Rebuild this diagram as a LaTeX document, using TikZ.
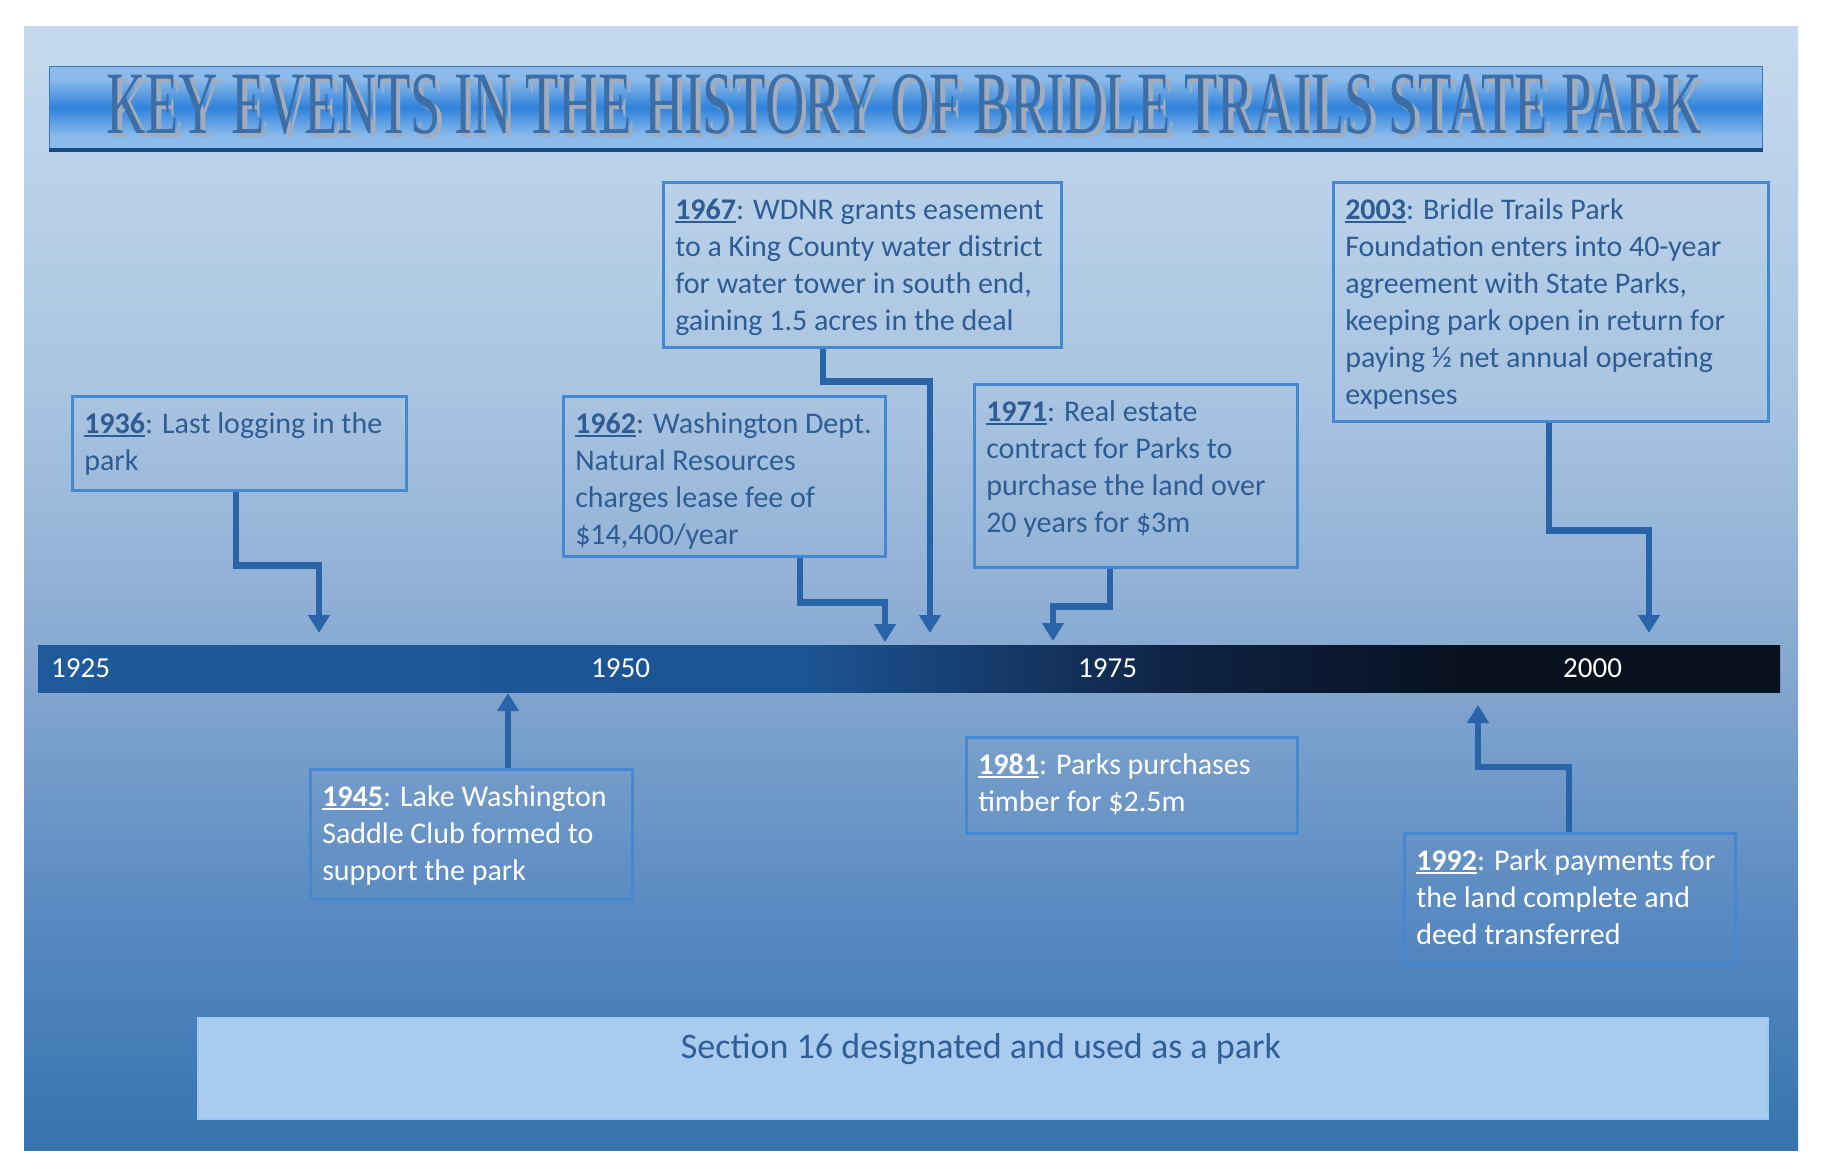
\documentclass[tikz,border=0pt]{standalone}
\usepackage{graphicx}
\usepackage{fontspec}
\setmainfont{Carlito}
\newfontfamily\titlefont{Liberation Serif}
\usetikzlibrary{arrows.meta,calc}
\definecolor{bgtop}{HTML}{C6DAEE}
\definecolor{bgA}{HTML}{A9C4E1}
\definecolor{bgB}{HTML}{86A8D0}
\definecolor{bgC}{HTML}{5B8BC2}
\definecolor{bgbot}{HTML}{3573AF}
\definecolor{barA}{HTML}{1E5A9C}
\definecolor{barB}{HTML}{1C5494}
\definecolor{barC}{HTML}{163A6A}
\definecolor{barD}{HTML}{0E2242}
\definecolor{barE}{HTML}{08111F}
\definecolor{tbLight}{HTML}{8CBBEB}
\definecolor{tbMid}{HTML}{2F82DB}
\definecolor{tbDark}{HTML}{1B4A82}
\definecolor{tbEdge}{HTML}{3F78B8}
\definecolor{titlec}{HTML}{3D6FA6}
\definecolor{titleshadow}{HTML}{A2ACBC}
\definecolor{boxline}{HTML}{4488D2}
\definecolor{boxtxt}{HTML}{2D5D94}
\definecolor{arrowc}{HTML}{2A64A8}
\definecolor{secfill}{HTML}{A9CBEF}
\definecolor{secedge}{HTML}{9CC5F2}
\definecolor{sectxt}{HTML}{2F5F98}
% TikZ maps a path onto the middle 50bp (25bp..75bp) of a 100bp shading
\pgfdeclareverticalshading{panelshade}{100bp}{color(0bp)=(bgbot); color(25bp)=(bgbot); color(36bp)=(bgC); color(46.5bp)=(bgB); color(58.5bp)=(bgA); color(75bp)=(bgtop); color(100bp)=(bgtop)}
\pgfdeclarehorizontalshading{barshade}{100bp}{color(0bp)=(barA); color(25bp)=(barA); color(47bp)=(barB); color(52.5bp)=(barC); color(58bp)=(barD); color(66bp)=(barE); color(100bp)=(barE)}
\pgfdeclareverticalshading{titleshade}{100bp}{color(0bp)=(tbLight); color(32.5bp)=(tbLight); color(50bp)=(tbMid); color(67.5bp)=(tbLight); color(100bp)=(tbLight)}
\newcommand\evfont{\fontsize{30}{37}\selectfont}
\newcommand\ev[1]{\setbox0\hbox{\textbf{#1}}\rlap{\rule[-3.5pt]{\wd0}{2pt}}\box0}
\newcommand\evc[3]{\parbox[c][#2][t]{#1}{\vspace*{11pt}\raggedright\strut #3}}
\newcommand\titletext{KEY EVENTS IN THE HISTORY OF BRIDLE TRAILS STATE PARK}
\tikzset{
  evbox/.style={draw=boxline, line width=2.5pt, inner xsep=12pt, inner ysep=0pt, anchor=north west, text=boxtxt, font=\evfont},
  evboxw/.style={evbox, text=white},
  arr/.style={draw=arrowc, line width=6.5pt, -{Triangle[width=21pt,length=18pt]}},
  yr/.style={text=white, font=\fontsize{29}{35}\selectfont, anchor=base west, inner sep=0pt}
}
\begin{document}
\begin{tikzpicture}[x=1pt,y=-1pt]
\fill[white] (0,0) rectangle (1821,1173);
\useasboundingbox (0,0) rectangle (1821,1173);
% background panel
\shade[shading=panelshade] (24,26) rectangle (1798,1150);
% title bar
\node[shade, shading=titleshade, draw=tbEdge, line width=1pt, minimum width=1713pt, minimum height=82pt, inner sep=0pt, anchor=north west] (titlebar) at (49,66) {};
\draw[tbDark, line width=4pt] ([yshift=-1pt]titlebar.south west) -- ([yshift=-1pt]titlebar.south east);
\node[anchor=base, inner sep=0pt, text=titlec] (title) at (904,133) {\resizebox{1595pt}{59pt}{\titlefont\fontsize{10}{12}\selectfont\rlap{\hspace{0.9pt}\raisebox{-0.45pt}[0pt][0pt]{\color{titleshadow}\titletext}}\titletext}};
% timeline bar
\node[shade, shading=barshade, minimum width=1742pt, minimum height=47pt, inner sep=0pt, anchor=north west] (bar) at (38,645) {};
\node[yr] (y1925) at (51,677) {1925};
\node[yr] (y1950) at (591,677) {1950};
\node[yr] (y1975) at (1078,677) {1975};
\node[yr] (y2000) at (1563,677) {2000};
% event boxes above
\node[evbox] (b1936) at (71,395) {\evc{310pt}{94pt}{\ev{1936}: Last logging in the\\park}};
\node[evbox] (b1967) at (662,181) {\evc{374pt}{165pt}{\ev{1967}: WDNR grants easement\\to a King County water district\\for water tower in south end,\\gaining 1.5 acres in the deal}};
\node[evbox] (b1962) at (562,395) {\evc{298pt}{160pt}{\ev{1962}: Washington Dept.\\Natural Resources\\charges lease fee of\\\$14,400/year}};
\node[evbox] (b1971) at (973,383) {\evc{299pt}{183pt}{\ev{1971}: Real estate\\contract for Parks to\\purchase the land over\\20 years for \$3m}};
\node[evbox] (b2003) at (1332,181) {\evc{411pt}{239pt}{\ev{2003}: Bridle Trails Park\\Foundation enters into 40-year\\agreement with State Parks,\\keeping park open in return for\\paying ½ net annual operating\\expenses}};
% event boxes below
\node[evboxw] (b1945) at (309,768) {\evc{298pt}{130pt}{\ev{1945}: Lake Washington\\Saddle Club formed to\\support the park}};
\node[evboxw] (b1981) at (965,736) {\evc{307pt}{96pt}{\ev{1981}: Parks purchases\\timber for \$2.5m}};
\node[evboxw] (b1992) at (1403,832) {\evc{307pt}{131pt}{\ev{1992}: Park payments for\\the land complete and\\deed transferred}};
% arrow tips
\coordinate (t1936) at (319,633);
\coordinate (t1962) at (885,642);
\coordinate (t1967) at (930,633);
\coordinate (t1971) at (1053,641);
\coordinate (t2003) at (1649,633);
\coordinate (t1945) at (508,693);
\coordinate (t1992) at (1478,705);
% connectors
\draw[arr] ([xshift=165pt]b1936.south west) -- ++(0,74) -| (t1936);
\draw[arr] ([xshift=238pt]b1962.south west) -- ++(0,45) -| (t1962);
\draw[arr] ([xshift=161pt]b1967.south west) -- ++(0,33) -| (t1967);
\draw[arr] ([xshift=137pt]b1971.south west) -- ++(0,38) -| (t1971);
\draw[arr] ([xshift=217pt]b2003.south west) -- ++(0,108) -| (t2003);
\draw[arr] ([xshift=199pt]b1945.north west) -- (t1945);
\draw[arr] ([xshift=166pt]b1992.north west) -- ++(0,-65) -| (t1992);
% bottom section box
\node[fill=secfill, draw=secedge, line width=1.5pt, minimum width=1570pt, minimum height=101pt, inner sep=0pt, anchor=north west] (sect) at (197,1017) {};
\node[anchor=base, inner sep=0pt, text=sectxt, font=\fontsize{36}{44}\selectfont] (secttext) at (981,1058) {Section 16 designated and used as a park};
\end{tikzpicture}
\end{document}
